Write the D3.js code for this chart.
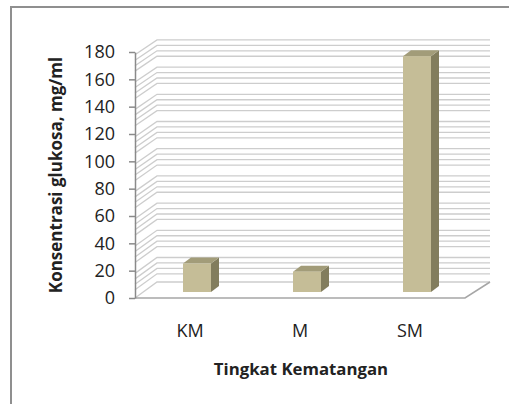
<!DOCTYPE html>
<html lang="en">
<head>
    <meta charset="utf-8">
    <title>Konsentrasi glukosa</title>
    <script src="https://cdnjs.cloudflare.com/ajax/libs/d3/7.8.5/d3.min.js"></script>
    <style>
        body { margin: 0; background: #fff; }
        text { font-family: "Open Sans", sans-serif; fill: #222; }
    </style>
</head>
<body>
<div id="graphContent"></div>
<script>
    // data
    var categories = ["KM", "M", "SM"];
    var values = [21, 15, 174];
    var yTicks = [0, 20, 40, 60, 80, 100, 120, 140, 160, 180];
    // wall lines are drawn as a bundle below each major tick
    var wallOffsets = [2, 6, 10, 14];

    var width = 509, height = 404;

    var svg = d3.select("#graphContent").append("svg")
        .attr("width", width)
        .attr("height", height);

    // outer frame (cut by the picture edge on the right and bottom)
    svg.append("path")
        .attr("d", "M11,410 L11,7 L515,7")
        .attr("fill", "none")
        .attr("stroke", "#8f8f8f")
        .attr("stroke-width", 2);

    // front axis, back wall and the depth the bars stand at
    var xScale = d3.scaleBand().domain(categories).range([135, 465]);
    var yFront = d3.scaleLinear().domain([0, 180]).range([298, 52]);
    var yBack = d3.scaleLinear().domain([0, 180]).range([282, 37.2]);
    var yBar = d3.scaleLinear().domain([0, 180]).range([292, 48]);
    var backLeft = 157, backRight = 490;

    // wall grid lines: side wall diagonal then back wall
    var lineVals = [0];
    yTicks.slice(1).forEach(function (v) {
        wallOffsets.forEach(function (o) { lineVals.push(v - o); });
    });

    svg.append("g").selectAll("path")
        .data(lineVals)
        .enter().append("path")
        .attr("d", function (v) {
            return "M135," + yFront(v) + " L" + backLeft + "," + yBack(v) + " L" + backRight + "," + yBack(v);
        })
        .attr("fill", "none")
        .attr("stroke", "#cdcdcd")
        .attr("stroke-width", 1.3);

    // floor edge
    svg.append("path")
        .attr("d", "M135," + yFront(0) + " L465," + yFront(0) + " L" + backRight + "," + yBack(0))
        .attr("fill", "none")
        .attr("stroke", "#a6a6a6")
        .attr("stroke-width", 1.5);

    // y axis
    var yAxis = d3.axisLeft(yFront).tickValues(yTicks).tickSize(6).tickSizeOuter(0).tickPadding(14);
    var gy = svg.append("g")
        .attr("transform", "translate(135,0)")
        .call(yAxis);
    gy.select(".domain").attr("stroke", "#8a8a8a").attr("stroke-width", 1.5);
    gy.selectAll(".tick line").attr("stroke", "#8a8a8a").attr("stroke-width", 1.5);
    gy.selectAll(".tick text")
        .attr("font-family", "'Open Sans', sans-serif")
        .attr("font-size", 18)
        .attr("fill", "#222");

    // 3d bars
    var barW = 28, depthX = 8, depthY = 6;
    var bars = svg.append("g").selectAll("g")
        .data(categories)
        .enter().append("g");

    function x0(c) { return xScale(c) + xScale.bandwidth() / 2 - 7; }

    bars.append("path") // side
        .attr("d", function (c, i) {
            var l = x0(c) + barW, t = yBar(values[i]), b = yBar(0);
            return "M" + l + "," + b + " L" + l + "," + t + " L" + (l + depthX) + "," + (t - depthY) +
                " L" + (l + depthX) + "," + (b - depthY) + "Z";
        })
        .attr("fill", "#827d5d");

    bars.append("path") // top
        .attr("d", function (c, i) {
            var l = x0(c), t = yBar(values[i]);
            return "M" + l + "," + t + " L" + (l + depthX) + "," + (t - depthY) + " L" + (l + barW + depthX) + "," + (t - depthY) +
                " L" + (l + barW) + "," + t + "Z";
        })
        .attr("fill", "#a29c79");

    bars.append("rect") // front
        .attr("x", function (c) { return x0(c); })
        .attr("y", function (c, i) { return yBar(values[i]); })
        .attr("width", barW)
        .attr("height", function (c, i) { return yBar(0) - yBar(values[i]); })
        .attr("fill", "#c5bd97");

    // category labels
    svg.append("g").selectAll("text")
        .data(categories)
        .enter().append("text")
        .attr("x", function (c) { return xScale(c) + xScale.bandwidth() / 2; })
        .attr("y", 337)
        .attr("text-anchor", "middle")
        .attr("font-size", 18)
        .text(function (c) { return c; });

    // axis titles
    svg.append("text")
        .attr("x", 301)
        .attr("y", 375)
        .attr("text-anchor", "middle")
        .attr("font-size", 16.8)
        .attr("font-weight", "bold")
        .text("Tingkat Kematangan");

    svg.append("text")
        .attr("transform", "translate(62,175) rotate(-90)")
        .attr("text-anchor", "middle")
        .attr("font-size", 17)
        .attr("font-weight", "bold")
        .text("Konsentrasi glukosa, mg/ml");
</script>
</body>
</html>
